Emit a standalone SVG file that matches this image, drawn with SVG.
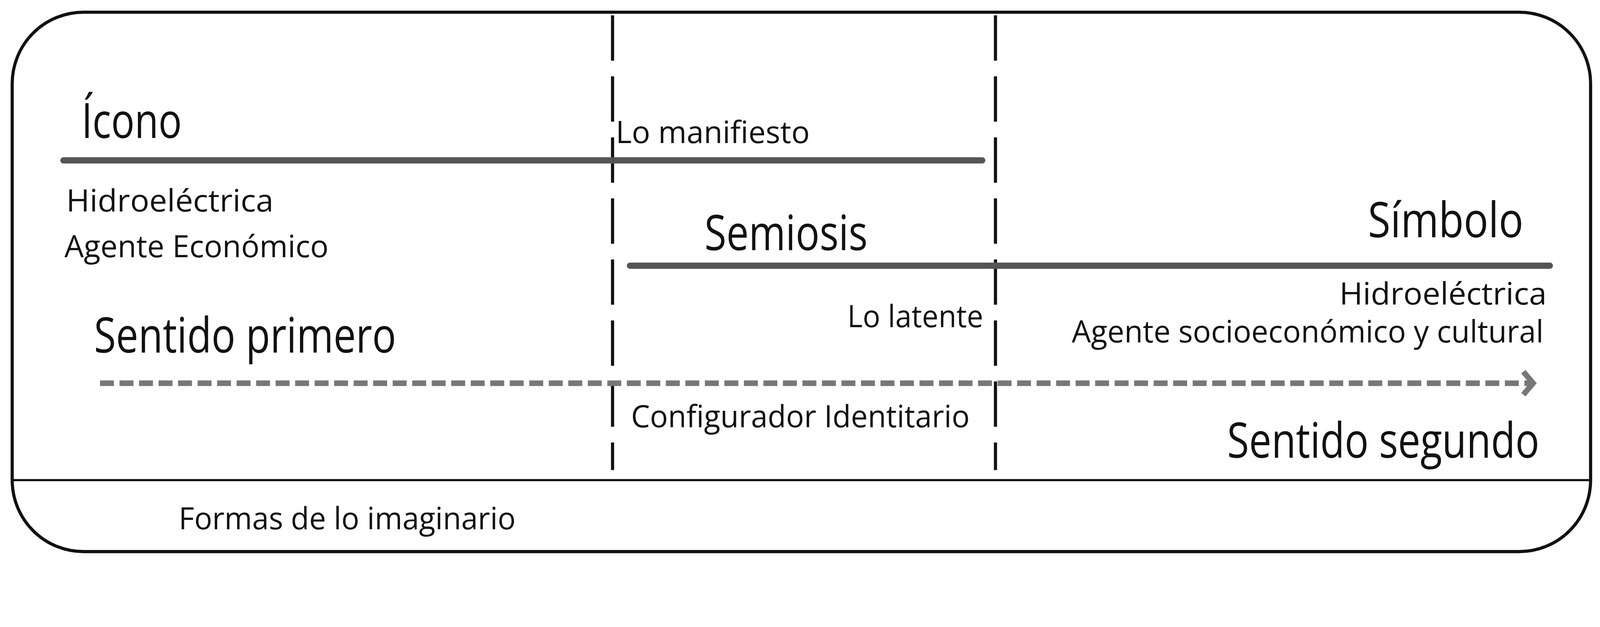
<svg xmlns="http://www.w3.org/2000/svg" width="4592" height="1604" viewBox="0 0 4592 1604" preserveAspectRatio="xMidYMin meet" style="width:100vw;height:100vh">
<style>
text{font-family:"Open Sans","Liberation Sans",sans-serif;fill:#111}
.big{font-size:140px}
.sm{font-size:88px}
.bar{stroke:#555;stroke-width:18;stroke-linecap:round}
.vd{stroke:#111;stroke-width:9;stroke-dasharray:130 45}
</style>
<defs><marker id="ah" markerWidth="60" markerHeight="90" refX="40" refY="45" orient="auto" markerUnits="userSpaceOnUse"><path d="M12,12 L40,45 L12,78" fill="none" stroke="#777" stroke-width="16"/></marker></defs>
<g id="frame">
<rect x="35" y="35" width="4530" height="1547" rx="205" fill="#fff" stroke="#111" stroke-width="9"/>
<line x1="35" y1="1377" x2="4565" y2="1377" stroke="#111" stroke-width="6"/>
</g>
<g id="connectors">
<line class="vd" x1="1758" y1="44" x2="1758" y2="1348"/>
<line class="vd" x1="2857" y1="44" x2="2857" y2="1348"/>
<line class="bar" x1="182" y1="460" x2="2819" y2="460"/>
<line class="bar" x1="1808" y1="762" x2="4448" y2="762"/>
<line x1="287" y1="1099" x2="4400" y2="1099" stroke="#777" stroke-width="16" stroke-dasharray="40 16" marker-end="url(#ah)"/>
</g>
<g id="icono"><text class="big" x="234" y="396" textLength="288" lengthAdjust="spacingAndGlyphs">Ícono</text></g>
<g id="manifiesto"><text class="sm" x="1767" y="410" textLength="557" lengthAdjust="spacingAndGlyphs">Lo manifiesto</text></g>
<g id="hidro1"><text class="sm" x="190" y="607" textLength="595" lengthAdjust="spacingAndGlyphs">Hidroeléctrica</text></g>
<g id="agente1"><text class="sm" x="185" y="738" textLength="758" lengthAdjust="spacingAndGlyphs">Agente Económico</text></g>
<g id="semiosis"><text class="big" x="2022" y="718" textLength="468" lengthAdjust="spacingAndGlyphs">Semiosis</text></g>
<g id="simbolo"><text class="big" x="3926" y="680" textLength="446" lengthAdjust="spacingAndGlyphs">Símbolo</text></g>
<g id="hidro2"><text class="sm" x="3844" y="873" textLength="595" lengthAdjust="spacingAndGlyphs">Hidroeléctrica</text></g>
<g id="agente2"><text class="sm" x="3076" y="982" textLength="1354" lengthAdjust="spacingAndGlyphs">Agente socioeconómico y cultural</text></g>
<g id="latente"><text class="sm" x="2432" y="938" textLength="390" lengthAdjust="spacingAndGlyphs">Lo latente</text></g>
<g id="sentido1"><text class="big" x="270" y="1011" textLength="867" lengthAdjust="spacingAndGlyphs">Sentido primero</text></g>
<g id="config"><text class="sm" x="1811" y="1225" textLength="972" lengthAdjust="spacingAndGlyphs">Configurador Identitario</text></g>
<g id="sentido2"><text class="big" x="3522" y="1313" textLength="896" lengthAdjust="spacingAndGlyphs">Sentido segundo</text></g>
<g id="formas"><text class="sm" x="513" y="1518" textLength="967" lengthAdjust="spacingAndGlyphs">Formas de lo imaginario</text></g>
</svg>
